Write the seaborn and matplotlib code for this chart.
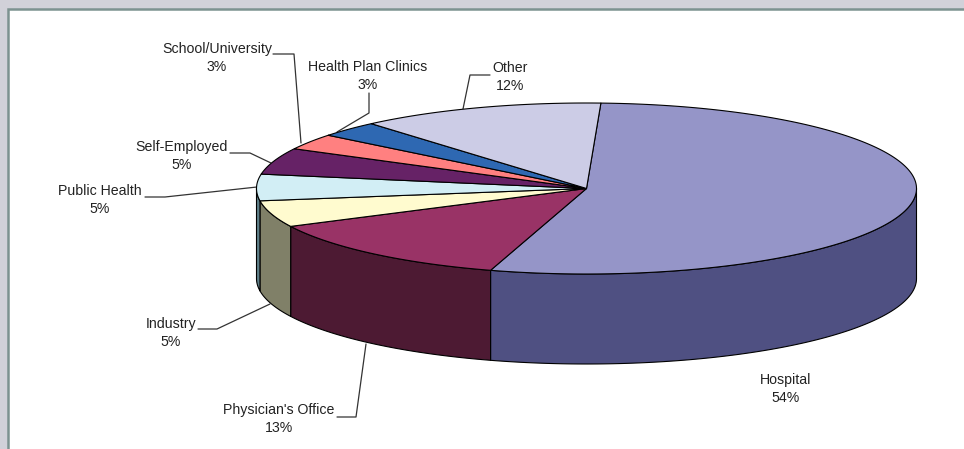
import numpy as np
import pandas as pd
import matplotlib
matplotlib.use("Agg")
import matplotlib.pyplot as plt
import seaborn as sns
from matplotlib.patches import Polygon, Rectangle

categories = ["Hospital", "Physician's Office", "Industry", "Public Health",
              "Self-Employed", "School/University", "Health Plan Clinics", "Other"]
shares = [54, 13, 5, 5, 5, 3, 3, 12]
top_colors = ["#9595C8", "#993366", "#FFFBCF", "#D2EEF5",
              "#662266", "#FF8080", "#2E68B2", "#CCCCE6"]
side_colors = ["#4F5082", "#4D1A33", "#808068", "#5F7F88",
               "#331133", "#804040", "#173459", "#666673"]

# Label anchors and leader-line paths, in figure pixels
label_xy = [(786, 389), (279, 419), (171, 333), (100, 200),
            (182, 156), (217, 58), (368, 76), (510, 77)]
leaders = [None,
           [(337, 417), (356, 417), (366, 344)],
           [(198, 329), (217, 329), (270, 304)],
           [(145, 197), (165, 197), (257, 187)],
           [(230, 153), (250, 153), (271, 163)],
           [(273, 54), (294, 54), (301, 143)],
           [(369, 93), (369, 113), (337, 132)],
           [(490, 75), (470, 75), (463, 109)]]

CX, CY, RX, RY, DEPTH = 586.5, 188.5, 330, 85.5, 90
START_DEG = 2.5

sns.set_theme(style="white")
plt.rcParams["font.family"] = ["Liberation Sans", "DejaVu Sans"]

df = pd.DataFrame({"category": categories, "share": shares,
                   "top": sns.color_palette(top_colors),
                   "side": sns.color_palette(side_colors)})
df["stop"] = START_DEG + df["share"].cumsum() / df["share"].sum() * 360
df["start"] = df["stop"] - df["share"] / df["share"].sum() * 360


def rim(deg, drop=0.0):
    t = np.radians(deg)
    return np.column_stack([CX + RX * np.sin(t), CY - RY * np.cos(t) + drop])


fig = plt.figure(figsize=(9.64, 4.49), dpi=100, facecolor="#D1D1D9")
ax = fig.add_axes([0, 0, 1, 1])
ax.set_xlim(0, 964)
ax.set_ylim(449, 0)
ax.axis("off")

ax.add_patch(Rectangle((8, 9), 970, 460, fc="white", ec="#7C9290", lw=1.8, zorder=0))

# Side wall, only where the rim faces the viewer
for row in df.itertuples():
    lo, hi = max(row.start, 90), min(row.stop, 270)
    if lo >= hi:
        continue
    arc = np.linspace(lo, hi, 120)
    pts = np.vstack([rim(arc), rim(arc[::-1], DEPTH)])
    ax.add_patch(Polygon(pts, closed=True, fc=row.side, ec="black", lw=0.8,
                         joinstyle="round", zorder=2))

# Top face
for row in df.itertuples():
    arc = np.linspace(row.start, row.stop, 240)
    pts = np.vstack([[CX, CY], rim(arc)])
    ax.add_patch(Polygon(pts, closed=True, fc=row.top, ec="black", lw=0.8,
                         joinstyle="round", zorder=3))

# Labels with their leader lines
for i, row in enumerate(df.itertuples()):
    x, y = label_xy[i]
    ax.text(x, y, f"{row.category}\n{row.share}%", ha="center", va="center",
            fontsize=10.2, color="#222222", linespacing=1.42, zorder=5)
    if leaders[i] is not None:
        path = np.array(leaders[i])
        ax.plot(path[:, 0], path[:, 1], color="#333333", lw=0.9, zorder=1)

fig.savefig("out.png", dpi=100, facecolor=fig.get_facecolor())
